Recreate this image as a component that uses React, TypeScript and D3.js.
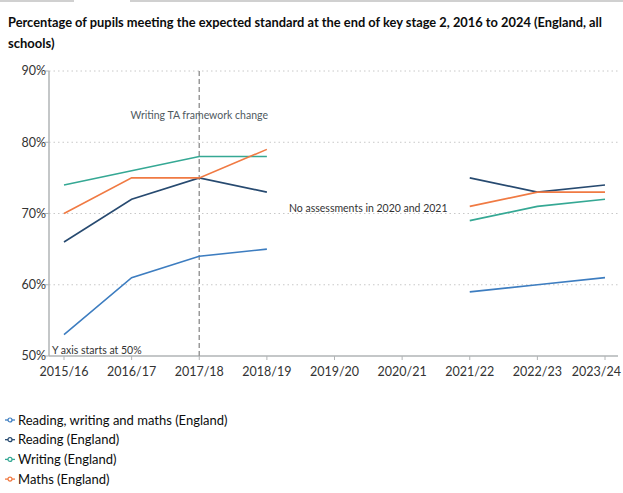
import React from "react";
import * as d3 from "d3";

const categories = ["2015/16", "2016/17", "2017/18", "2018/19", "2019/20", "2020/21", "2021/22", "2022/23", "2023/24"];
const rwm: (number | null)[] = [53, 61, 64, 65, null, null, 59, 60, 61];
const reading: (number | null)[] = [66, 72, 75, 73, null, null, 75, 73, 74];
const writing: (number | null)[] = [74, 76, 78, 78, null, null, 69, 71, 72];
const maths: (number | null)[] = [70, 75, 75, 79, null, null, 71, 73, 73];
const yTicks = [50, 60, 70, 80, 90];
const seriesNames = ["Reading, writing and maths (England)", "Reading (England)", "Writing (England)", "Maths (England)"];
const seriesColors = ["#3d7dc0", "#274a70", "#35a894", "#f07a43"];

const font = "Lato, 'Noto Sans', sans-serif";

export default function App() {
  const W = 623, H = 493;
  const left = 49, right = 618, top = 71, bottom = 356;
  const x = d3.scalePoint<string>().domain(categories).range([64, 605]);
  const y = d3.scaleLinear().domain([50, 90]).range([bottom, top]);
  const series = [rwm, reading, writing, maths];
  const line = d3
    .line<number | null>()
    .defined((d) => d !== null)
    .x((_, i) => x(categories[i]) as number)
    .y((d) => y(d as number));

  return (
    <svg width={W} height={H} style={{ position: "absolute", left: 0, top: 0, background: "#fff" }}>
      <line x1={0} x2={74} y1={1} y2={1} stroke="#d0d0d0" strokeWidth={2} />
      <line x1={130} x2={W} y1={1} y2={1} stroke="#d0d0d0" strokeWidth={2} />
      <text x={8} y={27} fontFamily={font} fontSize={13} fontWeight={700} fill="#0b0c0c" textLength={594} lengthAdjust="spacingAndGlyphs">
        Percentage of pupils meeting the expected standard at the end of key stage 2, 2016 to 2024 (England, all
      </text>
      <text x={8} y={48} fontFamily={font} fontSize={13} fontWeight={700} fill="#0b0c0c">
        schools)
      </text>

      {yTicks.slice(1).map((t) => (
        <line key={"g" + t} x1={left} x2={right} y1={y(t)} y2={y(t)} stroke="#c8c8c8" strokeDasharray="1.5,3" />
      ))}
      <line x1={left} x2={left} y1={top} y2={bottom} stroke="#b1b4b6" strokeWidth={1.5} />
      <line x1={left} x2={right} y1={bottom} y2={bottom} stroke="#b1b4b6" strokeWidth={1.5} />
      {yTicks.map((t) => (
        <g key={"y" + t}>
          <line x1={left - 4} x2={left} y1={y(t)} y2={y(t)} stroke="#b1b4b6" />
          <text x={left - 3} y={y(t)} dy="0.35em" textAnchor="end" fontFamily={font} fontSize={12.5} fill="#333">
            {t}%
          </text>
        </g>
      ))}
      {categories.map((c, i) => {
        const last = i === categories.length - 1;
        return (
          <g key={c}>
            <line x1={x(c)} x2={x(c)} y1={bottom} y2={bottom + 4} stroke="#b1b4b6" />
            <text
              x={last ? 621 : (x(c) as number)}
              y={372}
              dy="0.35em"
              textAnchor={last ? "end" : "middle"}
              fontFamily={font}
              fontSize={12.5}
              fill="#333"
            >
              {c}
            </text>
          </g>
        );
      })}

      <line x1={x("2017/18")} x2={x("2017/18")} y1={top} y2={bottom} stroke="#9a9a9a" strokeWidth={1.5} strokeDasharray="5,3" />
      <text x={x("2017/18")} y={115} dy="0.35em" textAnchor="middle" fontFamily={font} fontSize={10.5} fill="#505a5f">
        Writing TA framework change
      </text>
      <text x={289} y={208} dy="0.35em" fontFamily={font} fontSize={10.5} fill="#333">
        No assessments in 2020 and 2021
      </text>
      <text x={52} y={350} dy="0.35em" fontFamily={font} fontSize={10.5} fill="#333">
        Y axis starts at 50%
      </text>

      {series.map((s, i) => (
        <path key={"s" + i} d={line(s) || ""} fill="none" stroke={seriesColors[i]} strokeWidth={1.6} />
      ))}

      {seriesNames.map((n, i) => {
        const ly = 420 + i * 19.7;
        return (
          <g key={n}>
            <line x1={5} x2={15} y1={ly} y2={ly} stroke={seriesColors[i]} strokeWidth={1.3} />
            <circle cx={10} cy={ly} r={2} fill="#fff" stroke={seriesColors[i]} strokeWidth={1.2} />
            <text x={18} y={ly} dy="0.35em" fontFamily={font} fontSize={13} fill="#0b0c0c">
              {n}
            </text>
          </g>
        );
      })}
    </svg>
  );
}
